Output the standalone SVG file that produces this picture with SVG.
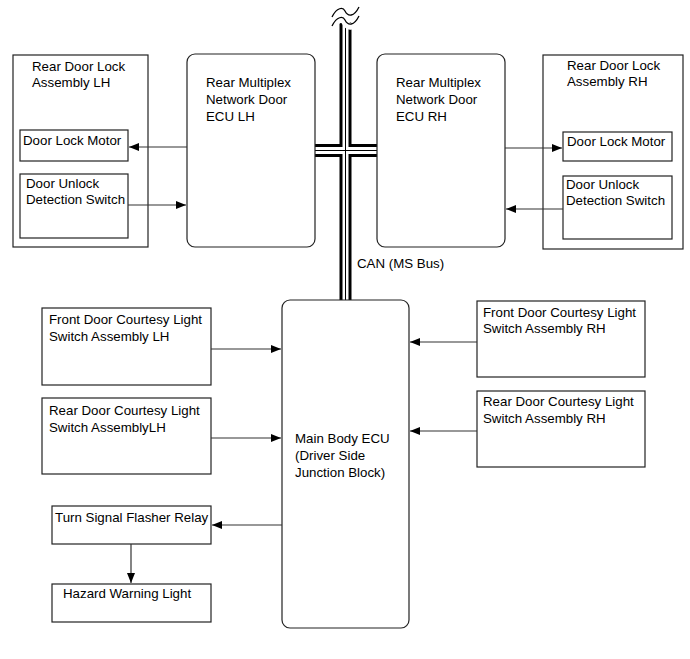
<svg xmlns="http://www.w3.org/2000/svg" width="690" height="659" viewBox="0 0 690 659">
<defs>
<style>
.box{fill:#fff;stroke:#222;stroke-width:1.2}
.t{font-family:"Liberation Sans",Arial,sans-serif;font-size:13.3px;fill:#000}
.ln{stroke:#333;stroke-width:1.2;fill:none}
.bus{stroke:#000;stroke-width:3;fill:none;stroke-linejoin:miter}
.thin{stroke:#000;stroke-width:1;fill:none}
</style>
<marker id="ah" viewBox="0 0 10 8" refX="10" refY="4" markerWidth="10" markerHeight="8" markerUnits="userSpaceOnUse" orient="auto">
<path d="M0,0 L10,4 L0,8 Z" fill="#000"/>
</marker>
</defs>
<rect width="690" height="659" fill="#fff"/>

<g id="bus">
<path class="bus" d="M341,22 V145.5 H315"/>
<path class="bus" d="M350,22 V145.5 H377"/>
<path class="bus" d="M315,155.5 H341 V300"/>
<path class="bus" d="M377,155.5 H350 V300"/>
<path class="thin" d="M345.5,22 V300 M315,150.5 H377"/>
<path d="M332,20 C337,10 343,10 345,14 C348,20 354,20 359,10" stroke="#fff" stroke-width="6" fill="none"/>
<path d="M332,17 C337,7 343,7 345,11 C348,17 354,17 359,7" stroke="#000" stroke-width="1.3" fill="none"/>
<path d="M332,28 C337,18 343,18 345,22 C348,28 354,28 359,18" stroke="#fff" stroke-width="7" fill="none"/>
<path d="M332,26 C337,16 343,16 345,20 C348,26 354,26 359,16" stroke="#000" stroke-width="1.3" fill="none"/>
<text class="t" x="357" y="268">CAN (MS Bus)</text>
</g>

<g id="rear-door-lock-lh">
<rect class="box" x="13" y="55" width="135" height="192"/>
<text class="t" x="32" y="71">Rear Door Lock</text>
<text class="t" x="32" y="87">Assembly LH</text>
</g>
<g id="door-lock-motor-lh">
<rect class="box" x="20" y="130" width="108" height="31"/>
<text class="t" x="23" y="145">Door Lock Motor</text>
</g>
<g id="door-unlock-lh">
<rect class="box" x="20" y="174" width="108" height="64"/>
<text class="t" x="26" y="188">Door Unlock</text>
<text class="t" x="26" y="204">Detection Switch</text>
</g>

<g id="ecu-lh">
<rect class="box" x="187" y="54" width="128" height="193" rx="8"/>
<text class="t" x="206" y="87">Rear Multiplex</text>
<text class="t" x="206" y="104">Network Door</text>
<text class="t" x="206" y="121">ECU LH</text>
</g>

<g id="ecu-rh">
<rect class="box" x="377" y="54" width="128" height="193" rx="8"/>
<text class="t" x="396" y="87">Rear Multiplex</text>
<text class="t" x="396" y="104">Network Door</text>
<text class="t" x="396" y="121">ECU RH</text>
</g>

<g id="rear-door-lock-rh">
<rect class="box" x="543" y="55" width="140" height="194"/>
<text class="t" x="567" y="70">Rear Door Lock</text>
<text class="t" x="567" y="86">Assembly RH</text>
</g>
<g id="door-lock-motor-rh">
<rect class="box" x="563" y="132" width="109" height="29"/>
<text class="t" x="567" y="146">Door Lock Motor</text>
</g>
<g id="door-unlock-rh">
<rect class="box" x="563" y="176" width="109" height="63"/>
<text class="t" x="566" y="189">Door Unlock</text>
<text class="t" x="566" y="205">Detection Switch</text>
</g>

<g id="main-body-ecu">
<rect class="box" x="282" y="300" width="127" height="328" rx="8"/>
<text class="t" x="295" y="443">Main Body ECU</text>
<text class="t" x="295" y="460">(Driver Side</text>
<text class="t" x="295" y="477">Junction Block)</text>
</g>

<g id="front-courtesy-lh">
<rect class="box" x="42" y="308" width="169" height="77"/>
<text class="t" x="49" y="324">Front Door Courtesy Light</text>
<text class="t" x="49" y="341">Switch Assembly LH</text>
</g>
<g id="rear-courtesy-lh">
<rect class="box" x="42" y="398" width="169" height="76"/>
<text class="t" x="49" y="415">Rear Door Courtesy Light</text>
<text class="t" x="49" y="432">Switch AssemblyLH</text>
</g>

<g id="front-courtesy-rh">
<rect class="box" x="477" y="301" width="168" height="76"/>
<text class="t" x="483" y="317">Front Door Courtesy Light</text>
<text class="t" x="483" y="333">Switch Assembly RH</text>
</g>
<g id="rear-courtesy-rh">
<rect class="box" x="477" y="391" width="168" height="76"/>
<text class="t" x="483" y="406">Rear Door Courtesy Light</text>
<text class="t" x="483" y="423">Switch Assembly RH</text>
</g>

<g id="turn-signal">
<rect class="box" x="52" y="506" width="159" height="38"/>
<text class="t" x="55" y="522">Turn Signal Flasher Relay</text>
</g>
<g id="hazard">
<rect class="box" x="52" y="584" width="159" height="38"/>
<text class="t" x="63" y="598">Hazard Warning Light</text>
</g>

<g id="connectors">
<path class="ln" d="M187,147 H129" marker-end="url(#ah)"/>
<path class="ln" d="M128,205 H186" marker-end="url(#ah)"/>
<path class="ln" d="M505,148 H562" marker-end="url(#ah)"/>
<path class="ln" d="M563,209 H506" marker-end="url(#ah)"/>
<path class="ln" d="M211,349 H281" marker-end="url(#ah)"/>
<path class="ln" d="M211,438 H281" marker-end="url(#ah)"/>
<path class="ln" d="M477,342 H410" marker-end="url(#ah)"/>
<path class="ln" d="M477,431 H410" marker-end="url(#ah)"/>
<path class="ln" d="M282,525 H212" marker-end="url(#ah)"/>
<path class="ln" d="M131,544 V583" marker-end="url(#ah)"/>
</g>
</svg>
